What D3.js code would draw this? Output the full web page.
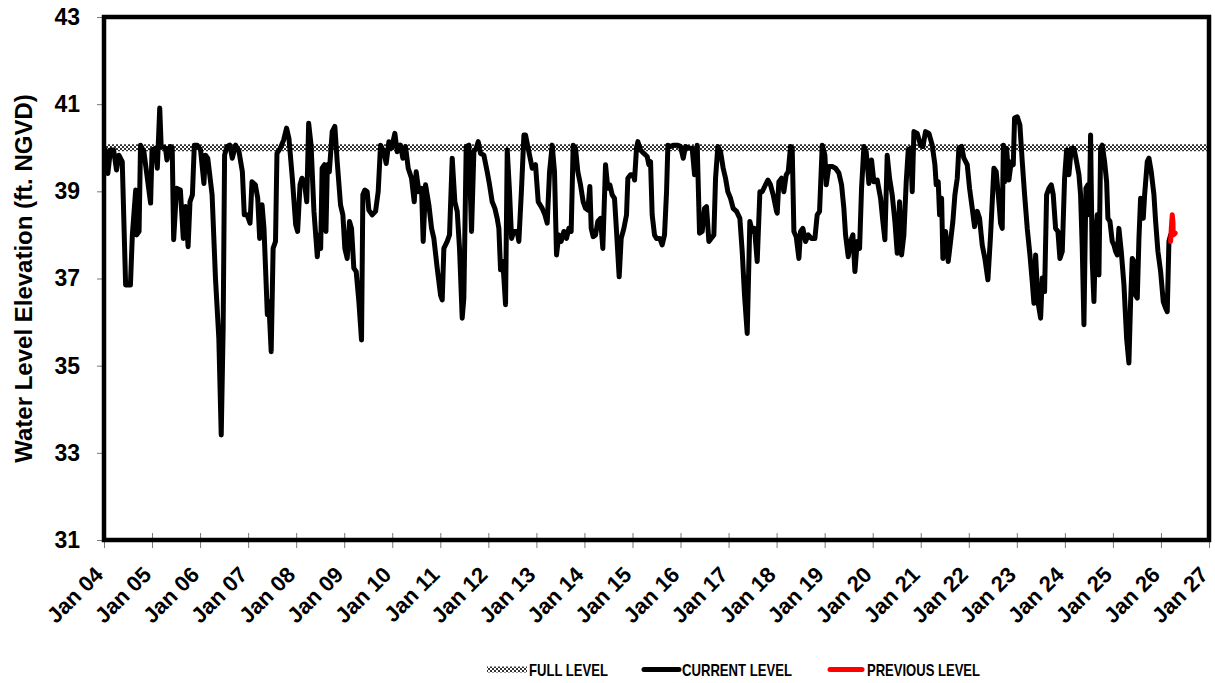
<!DOCTYPE html>
<html>
<head>
<meta charset="utf-8">
<script src="https://cdn.jsdelivr.net/npm/d3@7/dist/d3.min.js"></script>
<style>
  body { margin: 0; background: #fff; }
  svg { display: block; font-family: "Liberation Sans", Arial, sans-serif; font-weight: bold; }
</style>
</head>
<body>
<div id="chart"></div>
<script>
// years since Jan 2004
const yearOffsets = [
  0.03, 0.08, 0.135, 0.20, 0.26, 0.31, 0.38, 0.45, 0.55, 0.59, 0.66, 0.68, 0.73, 0.76, 0.83, 0.97,
  1.00, 1.07, 1.11, 1.16, 1.19, 1.28, 1.31, 1.38, 1.42, 1.45, 1.51, 1.59, 1.65, 1.70, 1.75, 1.79, 1.84, 1.88, 1.94,
  2.01, 2.08, 2.11, 2.16, 2.25, 2.32, 2.39, 2.44, 2.48, 2.51, 2.56, 2.62, 2.67, 2.74, 2.81, 2.88, 2.92, 2.98,
  3.04, 3.08, 3.15, 3.20, 3.24, 3.29, 3.33, 3.40, 3.43, 3.48, 3.52, 3.57, 3.60, 3.67, 3.74, 3.80, 3.85, 3.92, 3.99,
  4.03, 4.08, 4.12, 4.17, 4.22, 4.26, 4.31, 4.37, 4.44, 4.47, 4.51, 4.54, 4.59, 4.62, 4.65, 4.69, 4.75, 4.805, 4.854, 4.923, 4.972,
  5.013, 5.062, 5.11, 5.152, 5.20, 5.249, 5.305, 5.36, 5.388, 5.43, 5.478, 5.513, 5.582, 5.652, 5.707, 5.756, 5.825, 5.874, 5.93, 5.985,
  6.054, 6.103, 6.172, 6.221, 6.276, 6.332, 6.401, 6.457, 6.498, 6.554, 6.609, 6.644, 6.693, 6.762, 6.818, 6.866, 6.935,
  7.005, 7.04, 7.074, 7.144, 7.192, 7.248, 7.303, 7.352, 7.40, 7.456, 7.49, 7.539, 7.595, 7.65, 7.699, 7.748, 7.789, 7.838, 7.907, 7.976,
  8.025, 8.08, 8.136, 8.184, 8.219, 8.254, 8.302, 8.358, 8.393, 8.441, 8.483, 8.531, 8.601, 8.635, 8.691, 8.74, 8.774, 8.858, 8.913, 8.982,
  9.038, 9.121, 9.177, 9.225, 9.274, 9.329, 9.377, 9.419, 9.467, 9.516, 9.572, 9.627, 9.676, 9.724, 9.766, 9.814, 9.863, 9.918, 9.974,
  10.023, 10.071, 10.113, 10.141, 10.182, 10.231, 10.279, 10.335, 10.383, 10.439, 10.487, 10.529, 10.578, 10.626, 10.668, 10.723, 10.765, 10.821, 10.876, 10.904, 10.959,
  11.015, 11.043, 11.084, 11.112, 11.167, 11.237, 11.306, 11.341, 11.376, 11.41, 11.459, 11.501, 11.57, 11.618, 11.667, 11.709, 11.737, 11.792, 11.861, 11.931,
  12.0, 12.056, 12.104, 12.174, 12.243, 12.292, 12.347, 12.396, 12.451, 12.50, 12.541, 12.59, 12.638, 12.694, 12.729, 12.777, 12.833, 12.888, 12.937, 12.985,
  13.041, 13.096, 13.166, 13.235, 13.284, 13.332, 13.388, 13.443, 13.492, 13.54, 13.596, 13.652, 13.70, 13.769, 13.818, 13.873, 13.929, 13.998,
  14.013, 14.047, 14.103, 14.151, 14.20, 14.242, 14.29, 14.325, 14.36, 14.408, 14.464, 14.498, 14.547, 14.602, 14.658, 14.727, 14.797, 14.845, 14.894, 14.95,
  15.005, 15.033, 15.088, 15.158, 15.227, 15.296, 15.352, 15.40, 15.435, 15.491, 15.539, 15.588, 15.63, 15.678, 15.727, 15.768, 15.817, 15.865, 15.921, 15.976,
  16.025, 16.094, 16.164, 16.212, 16.254, 16.302, 16.351, 16.406, 16.462, 16.511, 16.559, 16.601, 16.649, 16.698, 16.74, 16.788, 16.823, 16.858, 16.927, 16.996,
  17.045, 17.10, 17.17, 17.239, 17.295, 17.322, 17.364, 17.392, 17.434, 17.461, 17.517, 17.572, 17.621, 17.669, 17.711, 17.76, 17.794, 17.85, 17.898, 17.968,
  18.016, 18.072, 18.12, 18.176, 18.224, 18.28, 18.335, 18.398, 18.454, 18.523, 18.571, 18.627, 18.662, 18.696, 18.72, 18.745, 18.787, 18.835, 18.884, 18.926, 18.953,
  19.009, 19.064, 19.113, 19.162, 19.217, 19.273, 19.321, 19.356, 19.391, 19.439, 19.495, 19.529, 19.578, 19.62, 19.668, 19.717, 19.758, 19.807, 19.855, 19.897, 19.946, 19.994,
  20.036, 20.084, 20.133, 20.189, 20.244, 20.293, 20.327, 20.362, 20.397, 20.438, 20.48, 20.508, 20.535, 20.57, 20.605, 20.64, 20.674, 20.709, 20.744, 20.778, 20.827, 20.869, 20.896, 20.938, 20.986,
  21.021, 21.056, 21.091, 21.125, 21.174, 21.23, 21.285, 21.333, 21.368, 21.403, 21.438, 21.472, 21.507, 21.542, 21.576, 21.632, 21.66, 21.715, 21.75, 21.798, 21.854, 21.889, 21.937, 21.993,
  22.048, 22.097, 22.131, 22.166, 22.201
];
const currentLevel = [
  39.95, 39.41, 39.95, 39.95, 39.49, 39.83, 39.68, 36.85, 36.85, 38.0, 39.03, 38.0, 38.08, 40.06, 39.91, 38.73,
  39.95, 39.99, 39.53, 40.91, 40.03, 39.99, 39.72, 40.03, 39.99, 37.89, 39.07, 39.03, 37.92, 38.65, 37.73, 38.76, 38.92, 40.06, 40.06,
  39.95, 39.18, 39.83, 39.76, 38.92, 37.01, 35.63, 33.41, 35.86, 39.83, 40.03, 40.06, 39.76, 40.06, 39.91, 39.45, 38.46, 38.46,
  38.27, 39.22, 39.15, 38.84, 37.92, 38.69, 38.15, 36.17, 36.47, 35.32, 37.69, 37.85, 39.87, 39.99, 40.18, 40.45, 40.21, 39.30, 38.23,
  38.08, 39.15, 39.30, 39.22, 38.76, 40.56, 40.06, 38.54, 37.50, 38.0, 37.69, 39.53, 39.61, 38.08, 39.61, 39.45, 40.37, 40.49, 39.68, 38.69, 38.46,
  37.69, 37.46, 38.31, 38.15, 37.24, 37.16, 36.47, 35.59, 38.92, 39.03, 38.99, 38.57, 38.46, 38.54, 38.99, 40.06, 39.91, 39.64, 40.14, 39.99,
  40.33, 39.91, 40.06, 39.76, 40.03, 39.53, 39.30, 38.76, 39.45, 38.99, 39.07, 37.85, 39.15, 38.69, 38.15, 37.92, 37.24,
  36.62, 36.51, 37.69, 37.85, 38.0, 39.76, 38.76, 38.54, 37.69, 36.09, 36.55, 40.03, 40.06, 38.08, 39.91, 39.99, 40.14, 39.87, 39.83, 39.45,
  39.15, 38.76, 38.61, 38.38, 38.15, 37.20, 37.39, 36.40, 39.95, 38.99, 37.92, 38.08, 38.08, 37.85, 39.07, 40.29, 40.29, 39.83, 39.53, 39.61,
  38.76, 38.61, 38.46, 38.27, 39.45, 40.06, 39.45, 37.54, 38.0, 37.85, 38.08, 37.92, 38.15, 38.08, 40.06, 39.99, 39.45, 39.15, 38.76,
  38.61, 38.57, 39.11, 38.15, 37.96, 38.0, 38.31, 38.38, 37.69, 39.61, 39.07, 39.15, 38.92, 38.84, 38.08, 37.04, 37.92, 38.15, 38.46, 39.30, 39.38,
  39.38, 39.26, 39.99, 40.14, 39.95, 39.87, 39.80, 39.61, 39.68, 38.46, 38.0, 37.92, 37.92, 37.77, 38.0, 38.99, 40.06, 40.03, 40.06, 40.06,
  40.03, 39.76, 40.03, 39.99, 39.99, 39.38, 40.06, 38.04, 38.08, 38.61, 38.65, 37.85, 37.92, 38.0, 39.30, 40.03, 39.91, 39.53, 39.30, 38.99,
  38.84, 38.61, 38.54, 38.38, 37.62, 36.62, 35.74, 38.31, 38.08, 38.15, 37.39, 38.99, 38.99, 39.15, 39.26, 39.15, 38.92, 38.54,
  38.50, 39.22, 39.30, 38.99, 39.38, 39.45, 40.03, 39.99, 38.08, 37.96, 37.46, 38.08, 38.15, 37.85, 38.0, 37.92, 37.92, 38.46, 38.54, 40.06,
  39.83, 39.15, 39.57, 39.57, 39.53, 39.42, 39.15, 38.61, 38.0, 37.50, 37.85, 38.0, 37.16, 37.85, 37.69, 39.07, 40.03, 39.91, 39.18, 39.72,
  39.22, 39.26, 38.84, 38.31, 37.89, 39.83, 39.30, 38.92, 38.31, 37.58, 38.76, 37.54, 38.0, 39.22, 39.95, 39.99, 38.99, 40.37, 40.33, 40.06,
  40.03, 40.37, 40.33, 40.06, 39.61, 39.15, 39.22, 38.46, 38.84, 37.46, 38.08, 37.39, 37.85, 38.31, 38.92, 39.30, 39.99, 40.03, 39.76, 39.61,
  39.07, 38.61, 38.19, 38.54, 38.38, 37.77, 37.46, 36.97, 38.0, 39.53, 39.45, 38.76, 38.27, 38.15, 40.06, 39.22, 39.99, 39.26, 39.68, 39.61, 40.68,
  40.71, 40.52, 39.68, 38.92, 38.15, 37.54, 36.93, 36.43, 37.54, 36.47, 36.09, 37.01, 36.70, 38.92, 39.07, 39.15, 38.92, 38.15, 38.08, 37.46, 37.62, 39.30,
  39.95, 39.38, 39.99, 39.99, 39.68, 39.38, 38.92, 37.69, 35.94, 39.07, 39.15, 38.46, 40.29, 37.39, 36.47, 38.0, 38.46, 37.08, 39.99, 40.06, 39.68, 39.22, 38.38, 38.31, 37.85,
  37.77, 37.62, 37.54, 38.15, 37.62, 36.85, 35.63, 35.06, 36.47, 37.46, 37.39, 36.62, 36.55, 37.92, 38.84, 38.38, 38.92, 39.68, 39.76, 39.45, 38.92, 38.31, 37.62, 37.16,
  36.47, 36.32, 36.24, 37.85, 38.0
];
const previousOffsets = [22.201, 22.215, 22.235, 22.249, 22.256, 22.298];
const previousLevel = [37.85, 38.15, 38.46, 38.31, 38.0, 38.04];
const fullLevel = 40;
const yTickValues = [31, 33, 35, 37, 39, 41, 43];
const xTickLabels = ["Jan 04", "Jan 05", "Jan 06", "Jan 07", "Jan 08", "Jan 09", "Jan 10", "Jan 11",
  "Jan 12", "Jan 13", "Jan 14", "Jan 15", "Jan 16", "Jan 17", "Jan 18", "Jan 19", "Jan 20", "Jan 21",
  "Jan 22", "Jan 23", "Jan 24", "Jan 25", "Jan 26", "Jan 27"];
const legendLabels = ["FULL LEVEL", "CURRENT LEVEL", "PREVIOUS LEVEL"];

const width = 1215, height = 683;
const margin = { top: 17, right: 6, bottom: 143, left: 104 };

const svg = d3.select("#chart").append("svg")
  .attr("width", width)
  .attr("height", height);

// checkered fill used for the full level band
const pattern = svg.append("defs").append("pattern")
  .attr("id", "checker")
  .attr("patternUnits", "userSpaceOnUse")
  .attr("width", 4)
  .attr("height", 4);
pattern.append("rect").attr("width", 4).attr("height", 4).attr("fill", "#fff");
pattern.append("rect").attr("width", 2).attr("height", 2).attr("fill", "#333");
pattern.append("rect").attr("x", 2).attr("y", 2).attr("width", 2).attr("height", 2).attr("fill", "#333");

const x = d3.scaleLinear()
  .domain([0, xTickLabels.length - 1])
  .range([margin.left, width - margin.right]);

const y = d3.scaleLinear()
  .domain([31, 43])
  .range([height - margin.bottom, margin.top]);

// y axis
const yAxis = svg.append("g")
  .attr("transform", `translate(${margin.left},0)`)
  .call(d3.axisLeft(y).tickValues(yTickValues).tickSize(7).tickPadding(17));
yAxis.select(".domain").remove();
yAxis.selectAll("line").attr("stroke", "#777").attr("stroke-width", 1);
yAxis.selectAll("text")
  .attr("fill", "#000")
  .style("font-size", "23px")
  .style("font-weight", "bold")
  .style("font-family", "'Liberation Sans', Arial, sans-serif");

// x axis
const xAxis = svg.append("g")
  .attr("transform", `translate(0,${height - margin.bottom})`)
  .call(d3.axisBottom(x).tickValues(d3.range(xTickLabels.length)).tickSize(8).tickFormat(""));
xAxis.select(".domain").remove();
xAxis.selectAll("line").attr("y1", -7).attr("stroke", "#777").attr("stroke-width", 1);
xAxis.selectAll(".tick").append("text")
  .attr("transform", "translate(0,36) rotate(-45)")
  .attr("text-anchor", "end")
  .attr("fill", "#000")
  .style("font-size", "22px")
  .text((d, i) => xTickLabels[i]);

// y axis title
svg.append("text")
  .attr("transform", `translate(32,${(margin.top + height - margin.bottom) / 2}) rotate(-90)`)
  .attr("text-anchor", "middle")
  .style("font-size", "24px")
  .text("Water Level Elevation (ft. NGVD)");

// full level band
svg.append("rect")
  .attr("x", x(0))
  .attr("y", y(fullLevel) - 3.5)
  .attr("width", x(xTickLabels.length - 1) - x(0))
  .attr("height", 7)
  .attr("fill", "url(#checker)");

const line = d3.line()
  .x(d => x(d[0]))
  .y(d => y(d[1]));

svg.append("path")
  .datum(d3.zip(yearOffsets, currentLevel))
  .attr("d", line)
  .attr("fill", "none")
  .attr("stroke", "#000")
  .attr("stroke-width", 5)
  .attr("stroke-linejoin", "round")
  .attr("stroke-linecap", "round");

svg.append("path")
  .datum(d3.zip(previousOffsets, previousLevel))
  .attr("d", line)
  .attr("fill", "none")
  .attr("stroke", "#f00")
  .attr("stroke-width", 5)
  .attr("stroke-linejoin", "round")
  .attr("stroke-linecap", "round");

// plot frame
svg.append("rect")
  .attr("x", margin.left)
  .attr("y", margin.top)
  .attr("width", width - margin.right - margin.left)
  .attr("height", height - margin.bottom - margin.top)
  .attr("fill", "none")
  .attr("stroke", "#000")
  .attr("stroke-width", 4.5);

// legend
const legend = svg.append("g").style("font-size", "17px");
const legendSpots = [
  { x0: 487, x1: 527, tx: 529, tl: 79 },
  { x0: 644, x1: 679, tx: 682, tl: 110 },
  { x0: 830, x1: 862, tx: 867, tl: 113 }
];
const legendY = 669.5;

legend.append("rect")
  .attr("x", legendSpots[0].x0)
  .attr("y", legendY - 3)
  .attr("width", legendSpots[0].x1 - legendSpots[0].x0)
  .attr("height", 6)
  .attr("fill", "url(#checker)");

[["#000", 1], ["#f00", 2]].forEach(([color, i]) => {
  legend.append("line")
    .attr("x1", legendSpots[i].x0)
    .attr("x2", legendSpots[i].x1)
    .attr("y1", legendY)
    .attr("y2", legendY)
    .attr("stroke", color)
    .attr("stroke-width", 5)
    .attr("stroke-linecap", "round");
});

legendLabels.forEach((label, i) => {
  legend.append("text")
    .attr("x", legendSpots[i].tx)
    .attr("y", legendY + 6)
    .attr("textLength", legendSpots[i].tl)
    .attr("lengthAdjust", "spacingAndGlyphs")
    .text(label);
});
</script>
</body>
</html>
